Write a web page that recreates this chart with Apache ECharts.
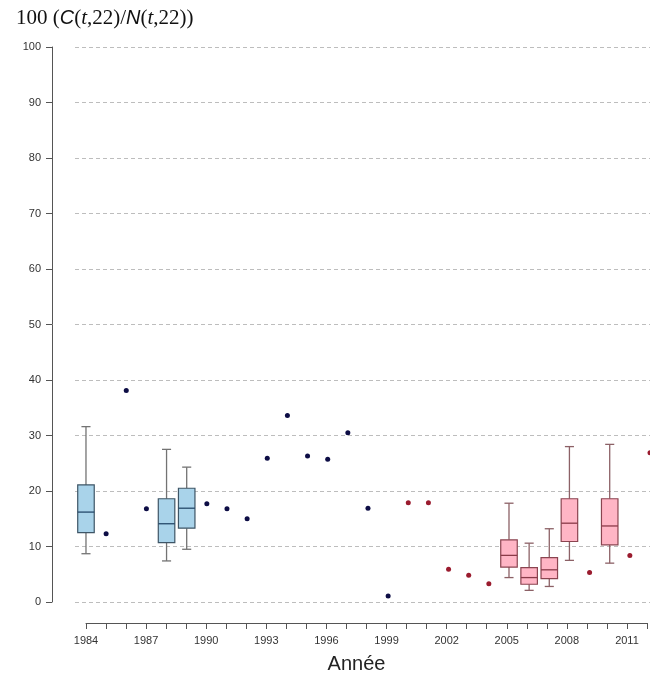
<!DOCTYPE html>
<html>
<head>
<meta charset="utf-8">
<script src="https://cdn.jsdelivr.net/npm/echarts@6/dist/echarts.min.js"></script>
<style>html,body{margin:0;padding:0;background:#fff;}#chart{width:650px;height:678px;}</style>
</head>
<body>
<div id="chart"></div>
<script>
// ---- data ----
const yTicks = [0, 10, 20, 30, 40, 50, 60, 70, 80, 90, 100];
const yearLabels = [1984, 1987, 1990, 1993, 1996, 1999, 2002, 2005, 2008, 2011];

// boxplots: [min, Q1, median, Q3, max]
const blueBoxYears = [1984, 1988, 1989];
const blueBoxStats = [
  [8.7, 12.5, 16.2, 21.1, 31.6],
  [7.4, 10.7, 14.1, 18.6, 27.5],
  [9.5, 13.3, 16.9, 20.5, 24.3]
];
const pinkBoxYears = [2005, 2006, 2007, 2008, 2010];
const pinkBoxStats = [
  [4.4, 6.3, 8.4, 11.2, 17.8],
  [2.1, 3.2, 4.4, 6.2, 10.6],
  [2.8, 4.2, 5.8, 8.0, 13.2],
  [7.5, 10.9, 14.2, 18.6, 28.0],
  [7.0, 10.3, 13.7, 18.6, 28.4]
];

// single points
const bluePointYears = [1985, 1986, 1987, 1990, 1991, 1992, 1993, 1994, 1995, 1996, 1997, 1998, 1999];
const bluePointValues = [12.3, 38.1, 16.8, 17.7, 16.8, 15.0, 25.9, 33.6, 26.3, 25.7, 30.5, 16.9, 1.1];
const redPointYears = [2000, 2001, 2002, 2003, 2004, 2009, 2011, 2012];
const redPointValues = [17.9, 17.9, 5.9, 4.8, 3.3, 5.3, 8.4, 26.9];

// ---- build ----
const blueBoxData = blueBoxYears.map((y, i) => [y].concat(blueBoxStats[i]));
const pinkBoxData = pinkBoxYears.map((y, i) => [y].concat(pinkBoxStats[i]));
const bluePts = bluePointYears.map((y, i) => [y, bluePointValues[i]]);
const redPts = redPointYears.map((y, i) => [y, redPointValues[i]]);

function boxRender(st) {
  return function (params, api) {
    const x = api.value(0);
    const pMin = api.coord([x, api.value(1)]);
    const pQ1 = api.coord([x, api.value(2)]);
    const pMed = api.coord([x, api.value(3)]);
    const pQ3 = api.coord([x, api.value(4)]);
    const pMax = api.coord([x, api.value(5)]);
    const cx = pMin[0];
    const bw = api.size([1, 0])[0] * 0.82;
    const cw = bw * 0.55;
    const wl = { stroke: st.whisker, lineWidth: 1.3 };
    return {
      type: 'group',
      children: [
        { type: 'line', shape: { x1: cx, y1: pQ3[1], x2: cx, y2: pMax[1] }, style: wl },
        { type: 'line', shape: { x1: cx, y1: pQ1[1], x2: cx, y2: pMin[1] }, style: wl },
        { type: 'line', shape: { x1: cx - cw / 2, y1: pMax[1], x2: cx + cw / 2, y2: pMax[1] }, style: wl },
        { type: 'line', shape: { x1: cx - cw / 2, y1: pMin[1], x2: cx + cw / 2, y2: pMin[1] }, style: wl },
        { type: 'rect', shape: { x: cx - bw / 2, y: pQ3[1], width: bw, height: pQ1[1] - pQ3[1] },
          style: { fill: st.fill, stroke: st.border, lineWidth: 1.2 } },
        { type: 'line', shape: { x1: cx - bw / 2, y1: pMed[1], x2: cx + bw / 2, y2: pMed[1] },
          style: { stroke: st.median, lineWidth: 1.3 } }
      ]
    };
  };
}

const chart = echarts.init(document.getElementById('chart'), null, { renderer: 'canvas' });
chart.setOption({
  animation: false,
  backgroundColor: '#fff',
  title: {
    left: 11, top: 3,
    text: '{s|100 (}{i|C}{s|(}{t|t}{s|,22)/}{i|N}{s|(}{t|t}{s|,22))}',
    textStyle: {
      fontWeight: 'normal',
      rich: {
        s: { fontFamily: 'Liberation Serif', fontWeight: 'normal', fontSize: 21, color: '#111' },
        i: { fontFamily: 'Liberation Sans', fontWeight: 'normal', fontStyle: 'italic', fontSize: 20, color: '#111' },
        t: { fontFamily: 'Liberation Serif', fontWeight: 'normal', fontStyle: 'italic', fontSize: 21, color: '#111' }
      }
    }
  },
  grid: [
    { left: 75, right: 0, top: 47, bottom: 76 },
    { left: 86, right: 0, top: 613, bottom: 55 }
  ],
  xAxis: [
    { type: 'value', gridIndex: 0, min: 1983.455, max: 2012, show: false, splitLine: { show: false } },
    {
      type: 'value', gridIndex: 1, min: 1984, max: 2012, interval: 1,
      axisLine: { show: true, lineStyle: { color: '#555', width: 1 } },
      axisTick: { show: true, length: 6, lineStyle: { color: '#555' } },
      splitLine: { show: false },
      axisLabel: {
        margin: 12, fontSize: 11, color: '#333', fontFamily: 'Liberation Sans',
        formatter: v => yearLabels.indexOf(v) >= 0 ? String(v) : ''
      },
      name: 'Année', nameLocation: 'middle', nameGap: 31,
      nameTextStyle: { fontSize: 20, color: '#222', fontFamily: 'Liberation Sans', padding: [0, 20, 0, 0] }
    }
  ],
  yAxis: [
    {
      type: 'value', gridIndex: 0, min: 0, max: 100, interval: 10, offset: 23,
      axisLine: { show: true, lineStyle: { color: '#555', width: 1 } },
      axisTick: { show: true, length: 6, lineStyle: { color: '#555' } },
      axisLabel: {
        margin: 11, fontSize: 11, color: '#333', fontFamily: 'Liberation Sans',
        formatter: v => yTicks.indexOf(v) >= 0 ? String(v) : ''
      },
      splitLine: { show: true, lineStyle: { color: '#bdbdbd', type: [4, 3], width: 1 } }
    },
    { type: 'value', gridIndex: 1, show: false, splitLine: { show: false } }
  ],
  series: [
    {
      type: 'custom', xAxisIndex: 0, yAxisIndex: 0,
      renderItem: boxRender({ fill: '#a9d3ea', border: '#3e5566', whisker: '#737373', median: '#25496a' }),
      encode: { x: 0, y: [1, 2, 3, 4, 5] },
      data: blueBoxData
    },
    {
      type: 'custom', xAxisIndex: 0, yAxisIndex: 0,
      renderItem: boxRender({ fill: '#ffb5c5', border: '#8a4450', whisker: '#8c6166', median: '#8a3a48' }),
      encode: { x: 0, y: [1, 2, 3, 4, 5] },
      data: pinkBoxData
    },
    {
      type: 'scatter', xAxisIndex: 0, yAxisIndex: 0, symbolSize: 5,
      itemStyle: { color: '#0d0d45', opacity: 1 }, data: bluePts
    },
    {
      type: 'scatter', xAxisIndex: 0, yAxisIndex: 0, symbolSize: 5,
      itemStyle: { color: '#9a1b2e', opacity: 1 }, data: redPts
    }
  ]
});
</script>
</body>
</html>
